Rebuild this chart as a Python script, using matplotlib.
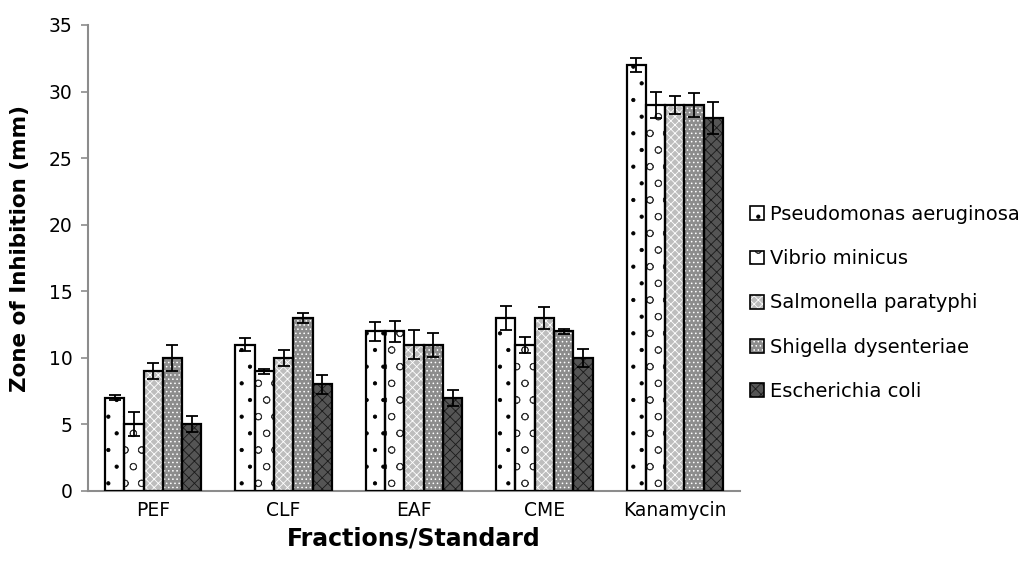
import matplotlib
matplotlib.use("Agg")
import matplotlib.pyplot as plt
import numpy as np
from matplotlib.patches import Patch

categories = ["PEF", "CLF", "EAF", "CME", "Kanamycin"]
series = ["Pseudomonas aeruginosa", "Vibrio minicus", "Salmonella paratyphi",
          "Shigella dysenteriae", "Escherichia coli"]
values = [
    [7, 11, 12, 13, 32],
    [5, 9, 12, 11, 29],
    [9, 10, 11, 13, 29],
    [10, 13, 11, 12, 29],
    [5, 8, 7, 10, 28],
]
errors = [
    [0.2, 0.5, 0.7, 0.9, 0.5],
    [0.9, 0.2, 0.8, 0.6, 0.95],
    [0.6, 0.6, 1.1, 0.8, 0.7],
    [1.0, 0.4, 0.9, 0.2, 0.9],
    [0.6, 0.7, 0.6, 0.7, 1.2],
]

faces = ["white", "white", "#bdbdbd", "#8c8c8c", "#555555"]
hatchcols = ["black", "#333333", "white", "white", "#1a1a1a"]
hatches = [".", "o", "xxxx", "....", "xxx"]

plt.rcParams["hatch.linewidth"] = 0.6
fig = plt.figure(figsize=(10.32, 5.74), dpi=100)
L, R, T, B = 88, 740, 25, 491
ax = fig.add_axes([L/1032, 1-B/574, (R-L)/1032, (B-T)/574])

x = np.arange(len(categories))
w = 0.148
handles = []
for i, s in enumerate(series):
    pos = x + (i - 2) * w
    ax.bar(pos, values[i], w, color=faces[i], edgecolor=hatchcols[i],
           hatch=hatches[i], linewidth=0, zorder=2)
    ax.bar(pos, values[i], w, fill=False, edgecolor="black", linewidth=1.6, zorder=3)
    ax.errorbar(pos, values[i], yerr=errors[i], fmt="none", ecolor="black",
                elinewidth=1.3, capsize=4.5, capthick=1.3, zorder=4)
    hp = Patch(facecolor=faces[i], edgecolor=hatchcols[i], hatch=hatches[i], linewidth=0)
    ho = Patch(fill=False, edgecolor="black", linewidth=1.2)
    handles.append((hp, ho))

ax.set_xlim(-0.5, 4.5)
ax.set_ylim(0, 35)
ax.set_yticks(range(0, 36, 5))
ax.set_xticks(x)
ax.set_xticklabels(categories)
for sp in ["top", "right"]:
    ax.spines[sp].set_visible(False)
for sp in ["left", "bottom"]:
    ax.spines[sp].set_color("#8c8c8c")
    ax.spines[sp].set_linewidth(1.5)
ax.tick_params(axis="y", direction="out", length=5, width=1.2, color="#8c8c8c",
               labelsize=13.5, pad=6)
ax.tick_params(axis="x", length=0, labelsize=13.5, pad=7)
for lab in ax.get_xticklabels() + ax.get_yticklabels():
    lab.set_family("DejaVu Sans")

ax.set_ylabel("Zone of Inhibition (mm)", fontsize=15.5, fontweight="bold",
              family="DejaVu Sans")
ax.yaxis.set_label_coords((20-L)/(R-L), 0.52)
ax.set_xlabel("Fractions/Standard", fontsize=17, fontweight="bold",
              family="DejaVu Sans")
ax.xaxis.set_label_coords(0.5, -(539-B)/(B-T))
ax.xaxis.label.set_va("center")
ax.yaxis.label.set_va("center")

leg = fig.legend(handles, series, loc="center left", bbox_to_anchor=(750/1032, 1-303/574),
                 frameon=False, borderpad=0, borderaxespad=0, handlelength=0.7,
                 handleheight=0.7, handletextpad=0.35, labelspacing=1.3,
                 prop={"family": "DejaVu Sans", "size": 14})

fig.savefig("out.png", dpi=100)
